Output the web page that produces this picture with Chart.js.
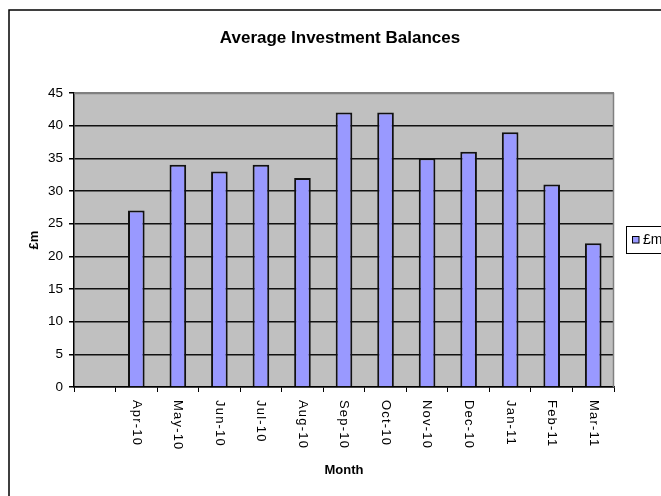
<!DOCTYPE html>
<html>
<head>
<meta charset="utf-8">
<script src="https://cdn.jsdelivr.net/npm/chart.js@4/dist/chart.umd.min.js"></script>
<style>
html,body{margin:0;padding:0;overflow:hidden;background:#fff;width:661px;height:496px;}
#wrap{position:absolute;left:0;top:0;width:680px;height:496px;}
</style>
</head>
<body>
<div id="wrap"><canvas id="c" width="680" height="496"></canvas></div>
<script>
const categories = ['', 'Apr-10', 'May-10', 'Jun-10', 'Jul-10', 'Aug-10', 'Sep-10', 'Oct-10', 'Nov-10', 'Dec-10', 'Jan-11', 'Feb-11', 'Mar-11'];
const balances = [null, 27, 34, 33, 34, 32, 42, 42, 35, 36, 39, 31, 22];
const seriesName = '£m';
const chartTitle = 'Average Investment Balances';
const xTitle = 'Month';
const yTitle = '£m';
const yMin = 0, yMax = 45, yStep = 5;

const FONT = '"Liberation Sans", Arial, sans-serif';
const BAR_COLOR = '#9999FF';

const decor = {
  id: 'decor',
  beforeDraw(chart) {
    const ctx = chart.ctx, a = chart.chartArea;
    ctx.save();
    ctx.fillStyle = '#fff';
    ctx.fillRect(0, 0, chart.width, chart.height);
    ctx.strokeStyle = '#000';
    ctx.lineWidth = 1.5;
    ctx.beginPath();
    ctx.moveTo(9, chart.height);
    ctx.lineTo(9, 10);
    ctx.lineTo(chart.width, 10);
    ctx.stroke();
    ctx.fillStyle = '#C0C0C0';
    ctx.fillRect(a.left, a.top, a.right - a.left, a.bottom - a.top);
    ctx.restore();
  },
  beforeDatasetsDraw(chart) {
    const ctx = chart.ctx, a = chart.chartArea;
    ctx.save();
    ctx.strokeStyle = '#808080';
    ctx.lineWidth = 1.5;
    ctx.beginPath();
    ctx.moveTo(a.left, a.top + 0.5);
    ctx.lineTo(a.right - 0.5, a.top + 0.5);
    ctx.lineTo(a.right - 0.5, a.bottom);
    ctx.stroke();
    ctx.restore();
  },
  afterDraw(chart) {
    const ctx = chart.ctx, a = chart.chartArea;
    const xs = chart.scales.x;
    ctx.save();
    ctx.fillStyle = '#000';
    ctx.font = '13px ' + FONT;
    if ('letterSpacing' in ctx) ctx.letterSpacing = '1.2px';
    ctx.textAlign = 'left';
    ctx.textBaseline = 'middle';
    categories.forEach((lab, i) => {
      if (!lab) return;
      const x = xs.getPixelForValue(i);
      ctx.save();
      ctx.translate(x, a.bottom + 13);
      ctx.rotate(Math.PI / 2);
      ctx.fillText(lab, 0, 0);
      ctx.restore();
    });
    if ('letterSpacing' in ctx) ctx.letterSpacing = '0px';
    // legend
    const lx = 626, ly = 226, lh = 27;
    ctx.fillStyle = '#fff';
    ctx.fillRect(lx, ly, 60, lh);
    ctx.strokeStyle = '#000';
    ctx.lineWidth = 1;
    ctx.strokeRect(lx + 0.5, ly + 0.5, 60, lh);
    const ds = chart.data.datasets[0];
    ctx.fillStyle = ds.backgroundColor;
    ctx.fillRect(632, 236, 7, 7);
    ctx.strokeRect(632.5, 236.5, 6.5, 6.5);
    ctx.fillStyle = '#000';
    ctx.font = '14px ' + FONT;
    ctx.fillText(ds.label, 643, 240);
    ctx.restore();
  }
};

new Chart(document.getElementById('c'), {
  type: 'bar',
  data: {
    labels: categories,
    datasets: [{
      label: seriesName,
      data: balances,
      backgroundColor: BAR_COLOR,
      borderColor: '#111',
      borderWidth: 2,
      barPercentage: 0.4,
      categoryPercentage: 1.0
    }]
  },
  options: {
    responsive: false,
    animation: false,
    devicePixelRatio: 1,
    layout: { padding: 0 },
    plugins: {
      legend: { display: false },
      tooltip: { enabled: false },
      title: {
        display: true,
        text: chartTitle,
        color: '#000',
        font: { family: FONT, size: 17, weight: 'bold', lineHeight: 1.2 },
        padding: { top: 28, bottom: 44.6 }
      }
    },
    scales: {
      x: {
        type: 'category',
        offset: true,
        grid: {
          display: true,
          drawOnChartArea: false,
          drawTicks: true,
          tickLength: 5,
          tickColor: '#000',
          offset: true
        },
        border: { display: true, color: '#000', width: 1.5 },
        ticks: { display: false },
        title: {
          display: true,
          text: xTitle,
          color: '#000',
          font: { family: FONT, size: 13, weight: 'bold', lineHeight: 1.2 },
          padding: { top: 18, bottom: 18 }
        },
        afterFit(s) { s.height = 109; }
      },
      y: {
        type: 'linear',
        min: yMin,
        max: yMax,
        ticks: {
          stepSize: yStep,
          color: '#000',
          font: { family: FONT, size: 13.5 },
          padding: 6
        },
        grid: {
          color: (c) => (c.tick && c.tick.value === yMax) ? '#808080' : '#111',
          lineWidth: 1.5,
          drawTicks: true,
          tickLength: 5,
          tickColor: '#000'
        },
        border: { display: true, color: '#000', width: 1.5 },
        title: {
          display: true,
          text: yTitle,
          color: '#000',
          font: { family: FONT, size: 13, weight: 'bold', lineHeight: 1.2 },
          padding: { top: 27, bottom: 0 }
        },
        afterFit(s) { s.width = 74; }
      },
      pad: {
        type: 'linear',
        position: 'right',
        display: true,
        grid: { display: false },
        border: { display: false },
        ticks: { display: false },
        afterFit(s) { s.width = 66; }
      }
    }
  },
  plugins: [decor]
});
</script>
</body>
</html>
